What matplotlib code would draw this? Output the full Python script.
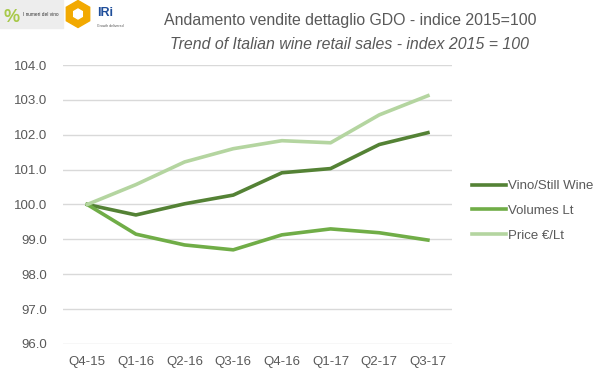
import matplotlib.pyplot as plt
from matplotlib.patches import Rectangle, RegularPolygon

# dati
quarters = ['Q4-15', 'Q1-16', 'Q2-16', 'Q3-16', 'Q4-16', 'Q1-17', 'Q2-17', 'Q3-17']
vino = [100.0, 99.70, 100.02, 100.27, 100.91, 101.03, 101.72, 102.06]
volumes = [100.0, 99.15, 98.84, 98.70, 99.13, 99.30, 99.19, 98.98]
price = [100.0, 100.57, 101.22, 101.60, 101.83, 101.77, 102.57, 103.12]
yticks = [96, 97, 98, 99, 100, 101, 102, 103, 104]

plt.rcParams['font.family'] = ['Liberation Sans', 'DejaVu Sans']
grey = '#595959'

fig = plt.figure(figsize=(5.99, 3.78), dpi=100)
ax = fig.add_axes([0.105, 0.09, 0.65, 0.738])

x = range(len(quarters))
ax.plot(x, vino, color='#548235', lw=2.6, label='Vino/Still Wine')
ax.plot(x, volumes, color='#70AD47', lw=2.6, label='Volumes Lt')
ax.plot(x, price, color='#B4D5A0', lw=2.6, label='Price €/Lt')

ax.set_xlim(-0.5, 7.5)
ax.set_ylim(96, 104)
ax.set_yticks(yticks)
ax.set_yticklabels([f'{v:.1f}' for v in yticks])
ax.set_xticks(list(x))
ax.set_xticklabels(quarters)
ax.tick_params(length=0, labelsize=9.5, colors=grey)
ax.tick_params(axis='y', pad=11)
ax.tick_params(axis='x', pad=9)
ax.grid(axis='y', color='#D9D9D9', lw=1)
ax.set_axisbelow(True)
for s in ax.spines.values():
    s.set_visible(False)

ax.legend(loc='center left', bbox_to_anchor=(1.02, 0.477), frameon=False,
          fontsize=9.5, labelcolor=grey, handlelength=2.6, handletextpad=0.1,
          labelspacing=0.95)

# titoli
fig.text(0.584, 0.945, 'Andamento vendite dettaglio GDO - indice 2015=100',
         ha='center', va='center', fontsize=11.4, color=grey)
fig.text(0.584, 0.882, 'Trend of Italian wine retail sales - index 2015 = 100',
         ha='center', va='center', fontsize=11.4, color=grey, style='italic')

# loghi (approssimati)
fig.patches.append(Rectangle((0.0, 0.925), 0.105, 0.075, transform=fig.transFigure,
                             color='#EDEDED', zorder=0))
fig.text(0.02, 0.955, '%', fontsize=13, color='#A8C94A', ha='center', va='center',
         fontweight='bold')
fig.text(0.068, 0.962, 'I numeri del vino', fontsize=3.4, color='#333333',
         ha='center', va='center')
fig.patches.append(RegularPolygon((0.78, 3.64), 6, radius=0.135,
                                  transform=fig.dpi_scale_trans, color='#F2A900'))
fig.patches.append(RegularPolygon((0.78, 3.64), 6, radius=0.05,
                                  transform=fig.dpi_scale_trans, color='white'))
fig.text(0.162, 0.965, 'IRi', fontsize=9, color='#1F4E9A', fontweight='bold',
         ha='left', va='center')
fig.text(0.162, 0.93, 'Growth delivered', fontsize=2.5, color='#555555',
         ha='left', va='center')

fig.savefig('out.png', dpi=100)
